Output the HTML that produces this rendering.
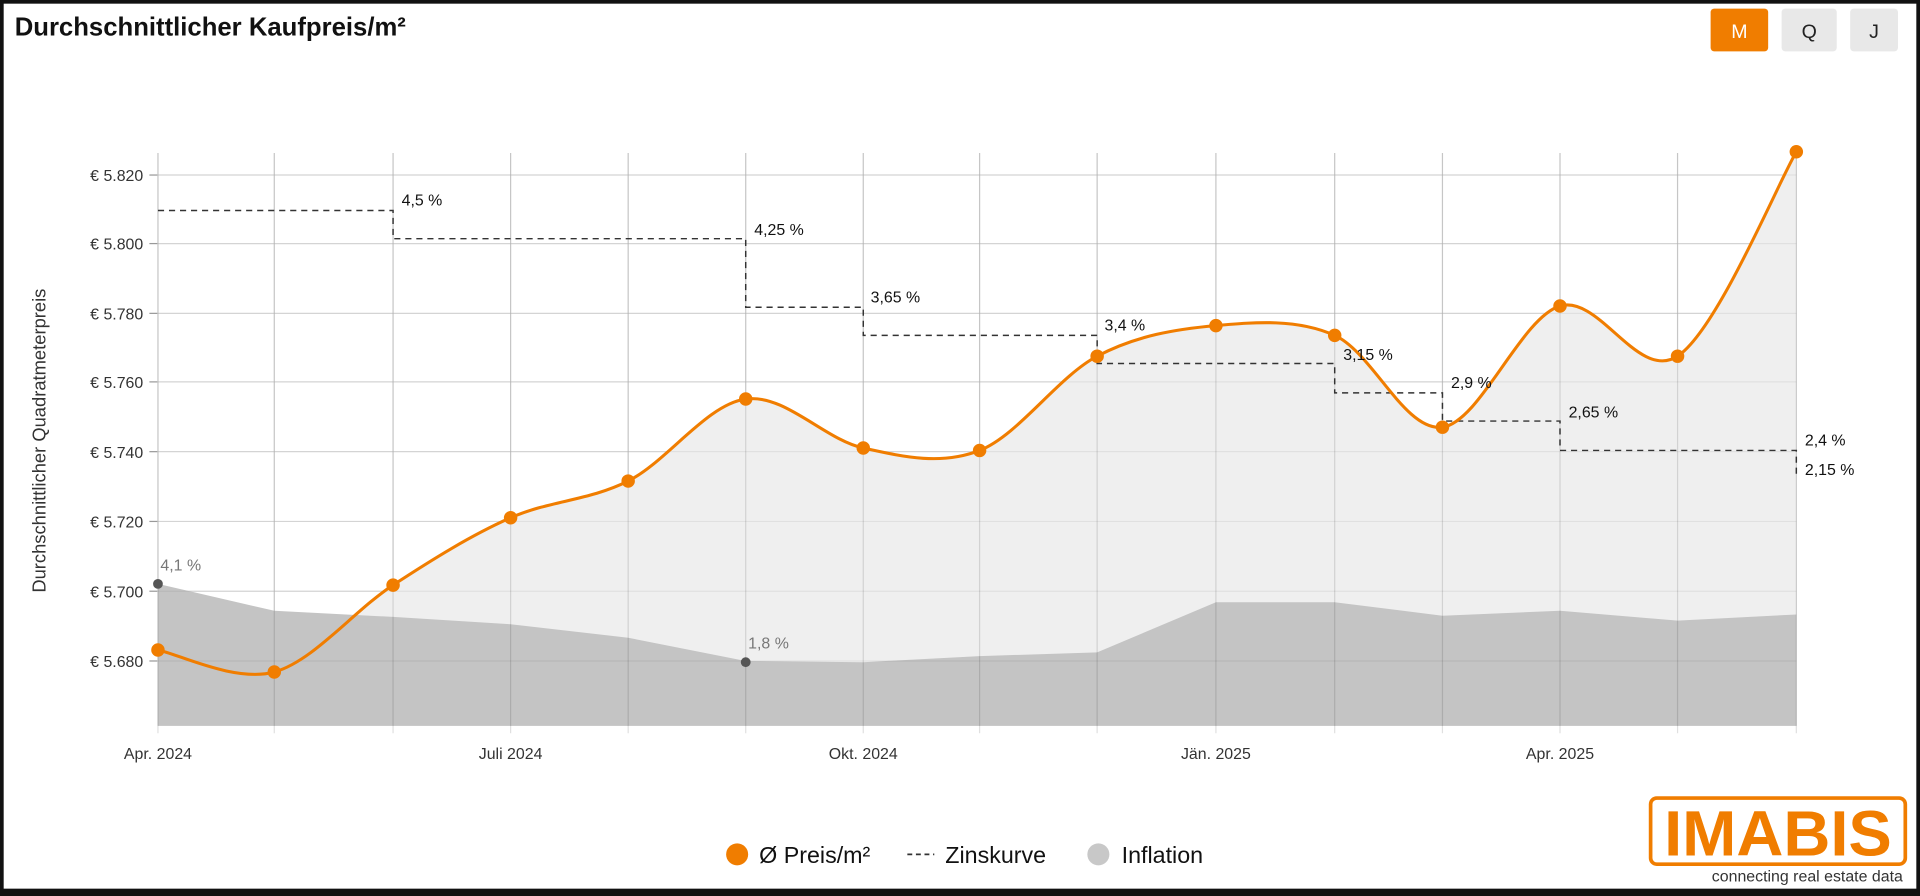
<!DOCTYPE html>
<html><head><meta charset="utf-8"><style>
html,body{margin:0;padding:0;background:#000;}
svg{display:block;}
text{font-family:"Liberation Sans",sans-serif;}
</style></head><body>
<svg id="s" width="1920" height="896" viewBox="0 0 1568 732" preserveAspectRatio="none" xmlns="http://www.w3.org/2000/svg">
<rect x="0" y="0" width="1568" height="732" fill="#111"/>
<rect x="3" y="3" width="1562" height="723" fill="#fff"/>
<text x="12" y="29" font-size="21" font-weight="bold" fill="#111">Durchschnittlicher Kaufpreis/m²</text>
<rect x="1397" y="7" width="47" height="35" rx="3" fill="#f07d00"/>
<text x="1420.5" y="31" font-size="16" fill="#fff" text-anchor="middle">M</text>
<rect x="1455" y="7" width="45" height="35" rx="3" fill="#e8e8e8"/>
<text x="1477.5" y="31" font-size="16" fill="#222" text-anchor="middle">Q</text>
<rect x="1511" y="7" width="39" height="35" rx="3" fill="#e8e8e8"/>
<text x="1530.5" y="31" font-size="16" fill="#222" text-anchor="middle">J</text>
<g id="grid"></g>
<path id="light" fill="#efefef"/>
<path id="dark" fill="#c4c4c4"/>
<g id="grid2"></g>
<g id="zins" fill="none" stroke="#333" stroke-width="1.2" stroke-dasharray="5,4"></g>
<path id="line" fill="none" stroke="#f07d00" stroke-width="2.5"/>
<g id="dots"></g>
<g id="labels" font-size="13" fill="#111"></g>
<text x="37" y="360" font-size="15" fill="#333" text-anchor="middle" transform="rotate(-90 37 360)">Durchschnittlicher Quadratmeterpreis</text>
<circle cx="602" cy="698" r="9" fill="#f07d00"/>
<text x="620" y="705" font-size="19" fill="#111">Ø Preis/m²</text>
<line x1="741" y1="698" x2="763" y2="698" stroke="#333" stroke-width="1.5" stroke-dasharray="4,3"/>
<text x="772" y="705" font-size="19" fill="#111">Zinskurve</text>
<circle cx="897" cy="698" r="9" fill="#c8c8c8"/>
<text x="916" y="705" font-size="19" fill="#111">Inflation</text>
<rect x="1348" y="652" width="208" height="54" rx="5" fill="none" stroke="#f07d00" stroke-width="3"/>
<text x="1452" y="699" font-size="52" font-weight="bold" fill="#f07d00" text-anchor="middle" textLength="186" lengthAdjust="spacingAndGlyphs">IMABIS</text>
<text x="1554" y="720" font-size="13" fill="#333" text-anchor="end">connecting real estate data</text>
</svg>
<script>
const X=[129,224,321,417,513,609,705,800,896,993,1090,1178,1274,1370,1467];
const P=[531,549,478,423,393,326,366,368,291,266,274,349,250,291,124];
const I=[477,499,504,510,521,540,541,536,533,492,492,503,499,507,502];
const B=593,T=125;
const ns="http://www.w3.org/2000/svg";
function el(p,t,a,txt){const e=document.createElementNS(ns,t);for(const k in a)e.setAttribute(k,a[k]);if(txt)e.textContent=txt;document.getElementById(p).appendChild(e);return e;}
const yl=[[143,"€ 5.820"],[199,"€ 5.800"],[256,"€ 5.780"],[312,"€ 5.760"],[369,"€ 5.740"],[426,"€ 5.720"],[483,"€ 5.700"],[540,"€ 5.680"]];
yl.forEach(([y,t])=>{el("grid","line",{x1:129,x2:1467,y1:y,y2:y,stroke:"#e2e2e2"});el("grid","line",{x1:122,x2:129,y1:y,y2:y,stroke:"#999"});el("labels","text",{x:117,y:y+5,"text-anchor":"end",fill:"#333"},t);});
X.forEach(x=>{el("grid","line",{x1:x,x2:x,y1:T,y2:B,stroke:"#e2e2e2"});el("grid2","line",{x1:x,x2:x,y1:T,y2:B+6,stroke:"rgba(0,0,0,0.12)"});});
[[143],[199],[256],[312],[369],[426],[483],[540]].forEach(([y])=>el("grid2","line",{x1:129,x2:1467,y1:y,y2:y,stroke:"rgba(0,0,0,0.06)"}));
[[0,"Apr. 2024"],[3,"Juli 2024"],[6,"Okt. 2024"],[9,"Jän. 2025"],[12,"Apr. 2025"]].forEach(([i,t])=>el("labels","text",{x:X[i],y:620,"text-anchor":"middle",fill:"#333"},t));
function smooth(xs,ys){let d="M"+xs[0]+","+ys[0];for(let i=0;i<xs.length-1;i++){const x0=xs[i-1]??xs[i],y0=ys[i-1]??ys[i],x3=xs[i+2]??xs[i+1],y3=ys[i+2]??ys[i+1];const t=1/6;d+=` C${xs[i]+(xs[i+1]-x0)*t},${ys[i]+(ys[i+1]-y0)*t} ${xs[i+1]-(x3-xs[i])*t},${ys[i+1]-(y3-ys[i])*t} ${xs[i+1]},${ys[i+1]}`;}return d;}
const lp=smooth(X,P);
document.getElementById("line").setAttribute("d",lp);
document.getElementById("light").setAttribute("d",lp+` L1467,${B} L129,${B} Z`);
document.getElementById("dark").setAttribute("d","M"+X.map((x,i)=>x+","+I[i]).join(" L")+` L1467,${B} L129,${B} Z`);
X.forEach((x,i)=>el("dots","circle",{cx:x,cy:P[i],r:5.5,fill:"#f07d00"}));
el("dots","circle",{cx:129,cy:477,r:4,fill:"#555"});el("dots","circle",{cx:609,cy:541,r:4,fill:"#555"});
el("labels","text",{x:131,y:466,fill:"#777"},"4,1 %");el("labels","text",{x:611,y:530,fill:"#777"},"1,8 %");
const Z=[[129,321,172],[321,609,195],[609,705,251],[705,896,274],[896,1090,297],[1090,1178,321],[1178,1274,344],[1274,1467,368]];
let zd="M129,172";Z.forEach(([a,b,y],i)=>{zd+=` L${a},${y} L${b},${y}`;});zd+=" L1467,391";
el("zins","path",{d:zd});
[[328,168,"4,5 %"],[616,192,"4,25 %"],[711,247,"3,65 %"],[902,270,"3,4 %"],[1097,294,"3,15 %"],[1185,317,"2,9 %"],[1281,341,"2,65 %"],[1474,364,"2,4 %"],[1474,388,"2,15 %"]].forEach(([x,y,t])=>el("labels","text",{x:x,y:y},t));
</script>
</body></html>
